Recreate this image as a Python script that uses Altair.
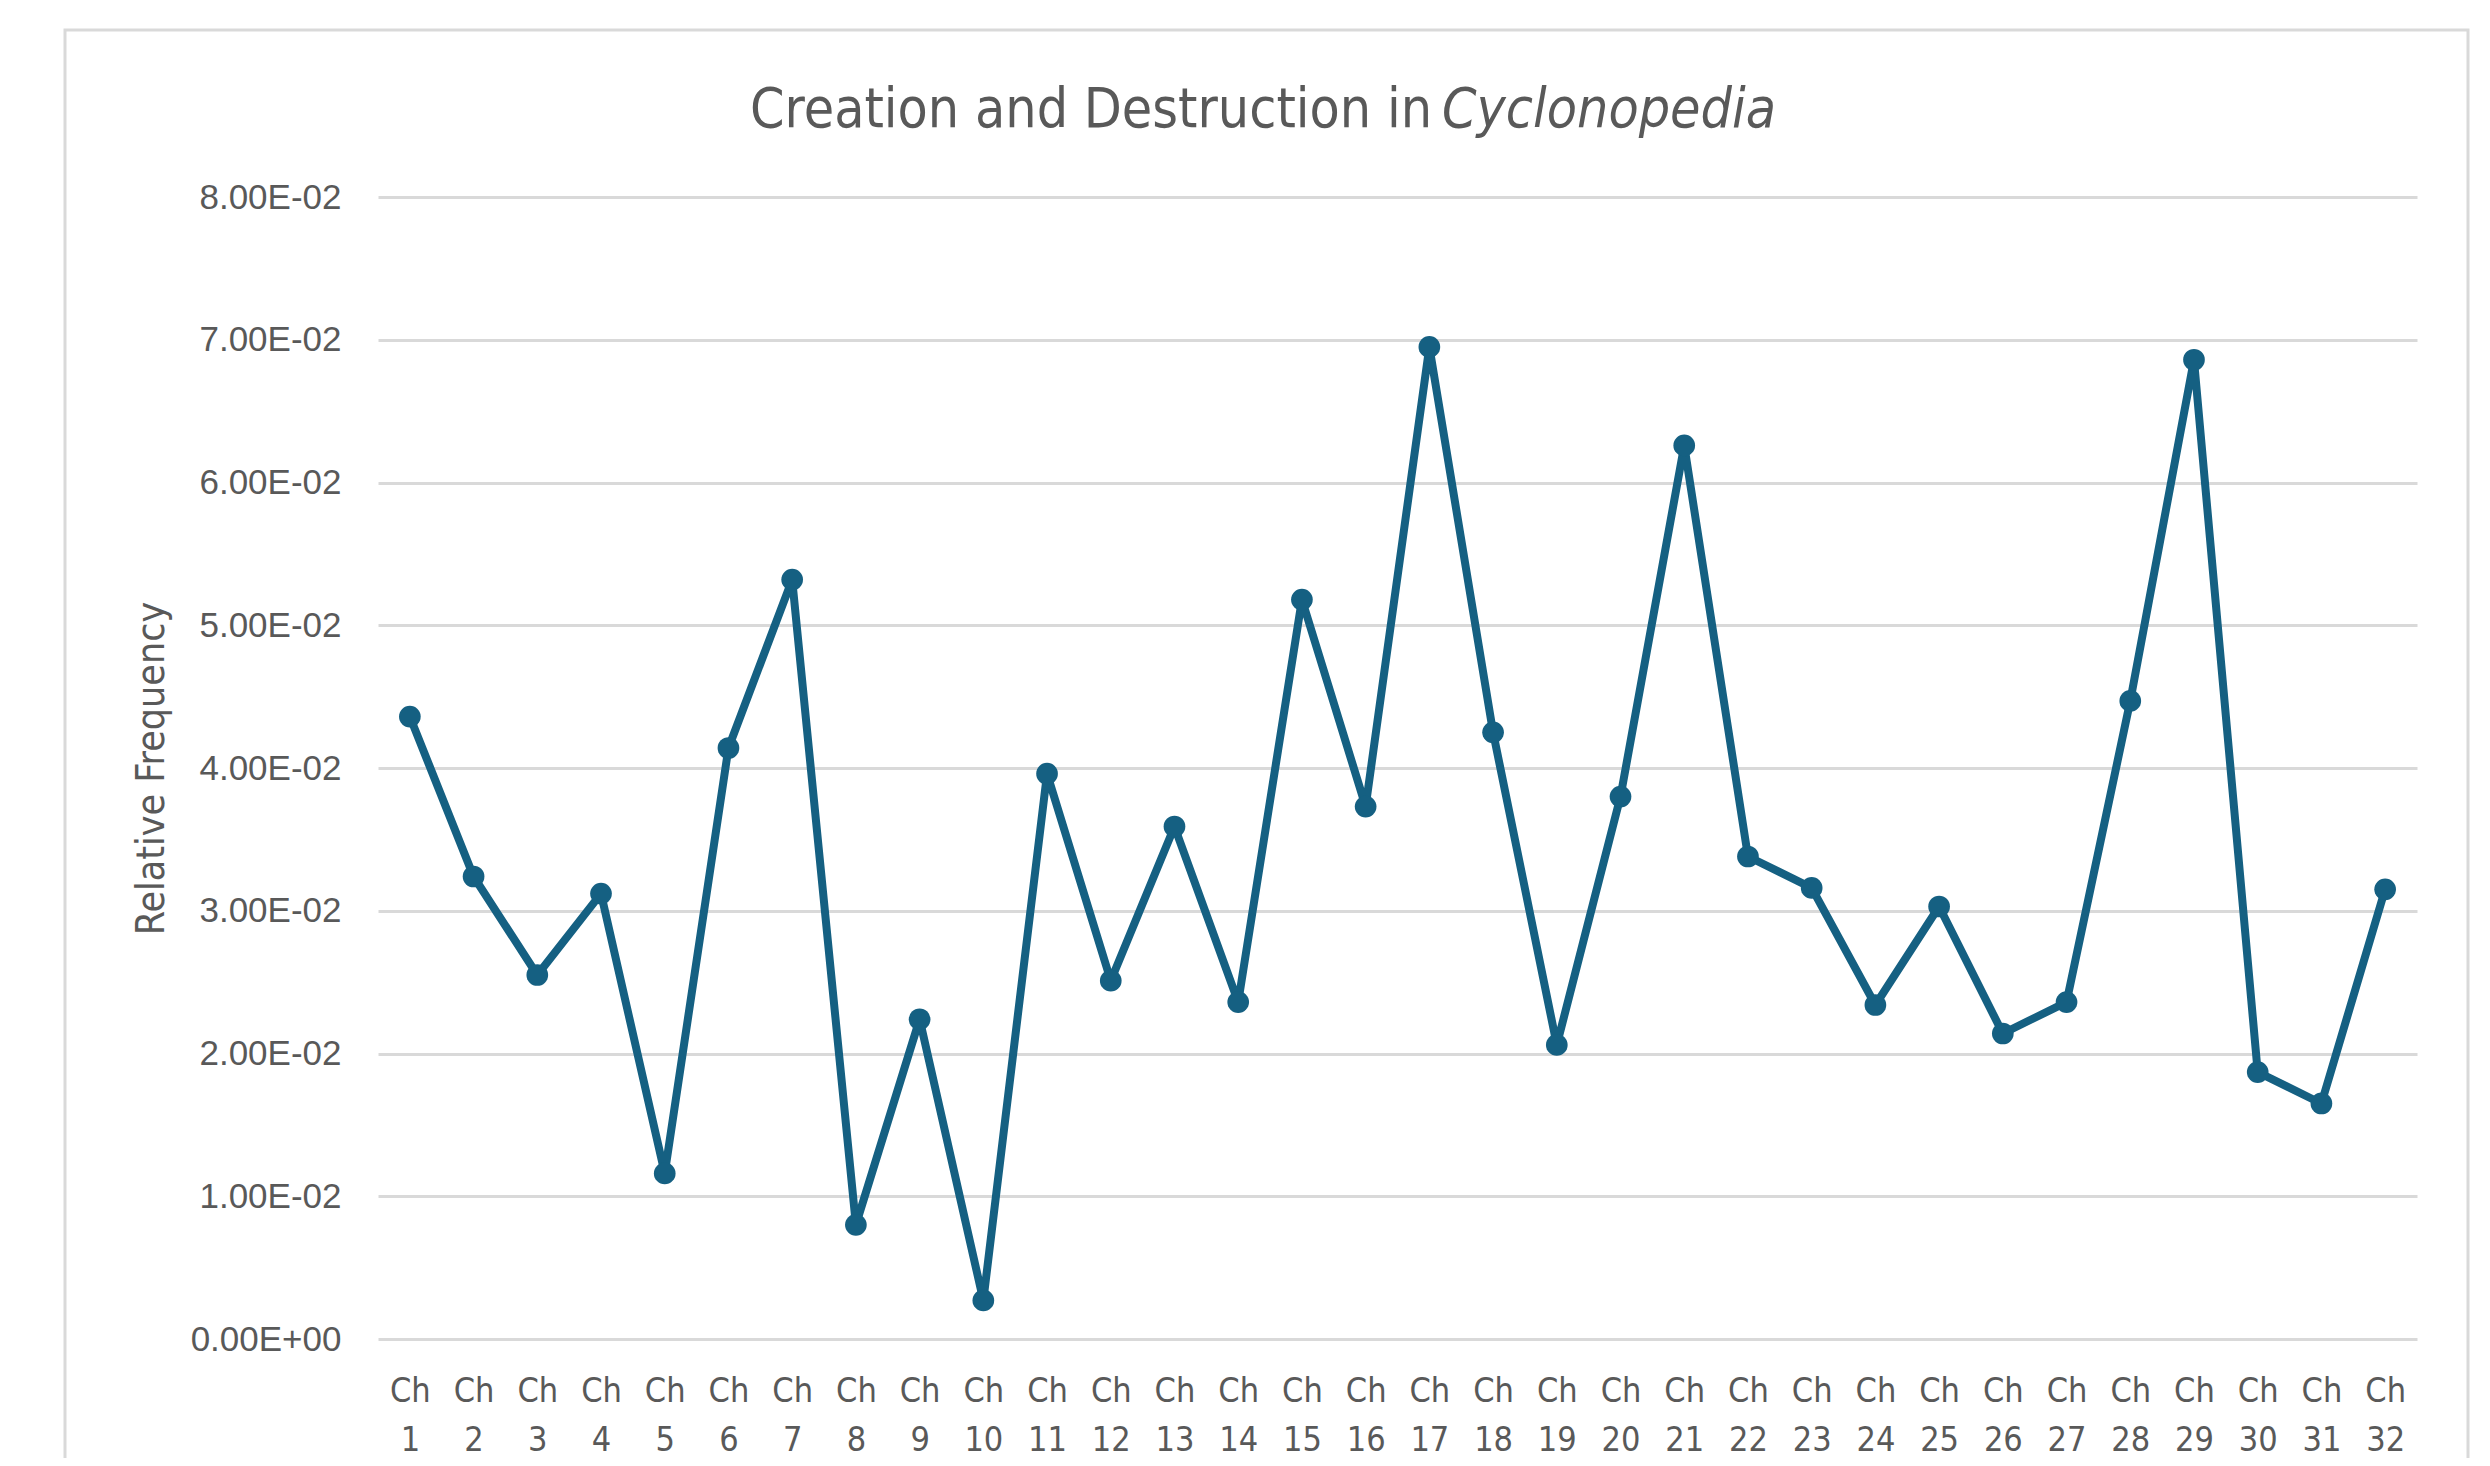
import altair as alt
import pandas as pd

chapters = [f"Ch {i}" for i in range(1, 33)]
rel_freq = [0.0436, 0.0324, 0.0255, 0.0312, 0.0116, 0.0414, 0.0532, 0.0080,
            0.0224, 0.0027, 0.0396, 0.0251, 0.0359, 0.0236, 0.0518, 0.0373,
            0.0695, 0.0425, 0.0206, 0.0380, 0.0626, 0.0338, 0.0316, 0.0234,
            0.0303, 0.0214, 0.0236, 0.0447, 0.0686, 0.0187, 0.0165, 0.0315]
y_ticks = [0.0, 0.01, 0.02, 0.03, 0.04, 0.05, 0.06, 0.07, 0.08]
title_main = "Creation and Destruction in"
title_italic = "Cyclonopedia"
y_title = "Relative Frequency"

df = pd.DataFrame({"chapter": chapters, "freq": rel_freq})

NARROW = "Liberation Sans Narrow, Arial Narrow, DejaVu Sans Condensed, sans-serif"
GREY = "#595959"
LINE = "#156082"

x_enc = alt.X("chapter:O", sort=chapters, title=None,
              axis=alt.Axis(labelExpr="split(datum.label, ' ')", labelAngle=0,
                            labelFont=NARROW, labelFontSize=34, labelColor=GREY,
                            labelLineHeight=49, labelPadding=35, ticks=False,
                            tickSize=0, domain=False, grid=False))
y_enc = alt.Y("freq:Q", scale=alt.Scale(domain=[0, 0.08], nice=False),
              title=y_title,
              axis=alt.Axis(values=y_ticks,
                            labelExpr="datum.value == 0 ? '0.00E+00' : format(datum.value * 100, '.2f') + 'E-02'",
                            labelFont="Liberation Sans", labelFontSize=35, labelColor=GREY,
                            labelPadding=37, ticks=False, tickSize=0, domain=False,
                            grid=True, gridColor="#d9d9d9", gridWidth=3,
                            titleFont=NARROW, titleFontSize=39, titleColor=GREY,
                            titleFontWeight="normal", titleAngle=270,
                            titleX=-227, titleY=571, titleAlign="center",
                            titleBaseline="middle"))

line = alt.Chart(df).mark_line(color=LINE, strokeWidth=8, strokeJoin="round").encode(
    x=x_enc, y=y_enc)
points = alt.Chart(df).mark_circle(color=LINE, size=470, opacity=1).encode(
    x=alt.X("chapter:O", sort=chapters), y="freq:Q")

frame_df = pd.DataFrame({"k": [0]})
frame = alt.Chart(frame_df).mark_rect(fill="transparent", stroke="#d9d9d9",
                                      strokeWidth=3).encode(
    x=alt.value(-313), x2=alt.value(2090), y=alt.value(-167), y2=alt.value(1400))

t1 = alt.Chart(frame_df).mark_text(text=title_main, font=NARROW, fontSize=55,
                                   color=GREY, align="right",
                                   baseline="alphabetic").encode(
    x=alt.value(1054), y=alt.value(-70))
t2 = alt.Chart(frame_df).mark_text(text=title_italic, font=NARROW, fontSize=55,
                                   fontStyle="italic", color=GREY, align="left",
                                   baseline="alphabetic").encode(
    x=alt.value(1064), y=alt.value(-70))

chart = alt.layer(frame, line, points, t1, t2).properties(
    width=2039, height=1142,
    background="white",
    autosize=alt.AutoSizeParams(type="none"),
    padding={"left": 370, "top": 189, "right": 60, "bottom": 119},
).configure_view(stroke="transparent", strokeWidth=0)

chart.save("out.html", embed_options={"renderer": "svg", "actions": False})
